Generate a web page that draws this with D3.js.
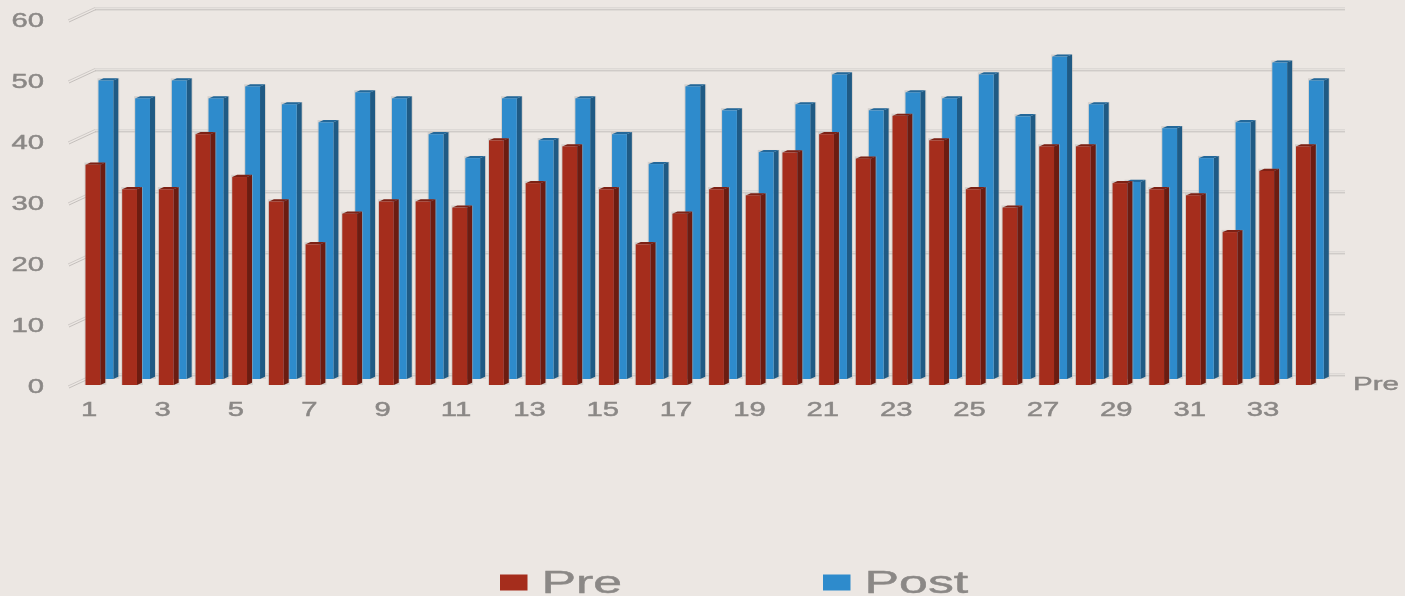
<!DOCTYPE html>
<html>
<head>
<meta charset="utf-8">
<script src="https://cdn.jsdelivr.net/npm/d3@7"></script>
<style>
html,body{margin:0;padding:0;background:#ece7e3;overflow:hidden}
svg{display:block;filter:blur(0.65px)}
text{font-family:"Liberation Sans",Arial,sans-serif;fill:#8b8886;stroke:#8b8886;stroke-width:0.45px}
</style>
</head>
<body>
<svg id="chart" width="1405" height="596"></svg>
<script>
const categories = d3.range(1, 35);
const preValues = [36,32,32,41,34,30,23,28,30,30,29,40,33,39,32,23,28,32,31,38,41,37,44,40,32,29,39,39,33,32,31,25,35,39];
const postValues = [50,47,50,47,49,46,43,48,47,41,37,47,40,47,41,36,49,45,38,46,51,45,48,47,51,44,54,46,33,42,37,43,53,50];
const yTicks = [0,10,20,30,40,50,60];
const xTickLabels = categories.filter(d => d % 2 === 1);
const seriesNames = ["Pre","Post"];
const axisCategoryLabel = "Pre";

const colors = {
  Pre:{face:"#a52d1c",side:"#6c1c11",top:"#7d2114"},
  Post:{face:"#2e8bcc",side:"#1f5a84",top:"#23689a"}
};
const W = 1405, H = 596;
const barW = 14.8, depthX = 5, depthY = 2.2;
const stretch = 1.5;

const svg = d3.select("#chart");
svg.append("rect").attr("width",W).attr("height",H).attr("fill","#ece7e3");

const x = d3.scalePoint().domain(categories).range([85.5,1296]);
const yBack = d3.scaleLinear().domain([0,60]).range([375,9]);
const yPre = d3.scaleLinear().domain([0,60]).range([385,18]);
const yPost = d3.scaleLinear().domain([0,60]).range([379,20.8]);
const yLabel = d3.scaleLinear().domain([0,60]).range([385.5,19.5]);

// gridlines, back wall and left wall
const grid = svg.append("g");
yTicks.forEach(t => {
  const y = yBack(t);
  grid.append("line").attr("x1",95).attr("x2",1345).attr("y1",y-1.2).attr("y2",y-1.2)
    .attr("stroke","#d8d3d0").attr("stroke-width",1);
  grid.append("line").attr("x1",95).attr("x2",1345).attr("y1",y+0.8).attr("y2",y+0.8)
    .attr("stroke","#c4bfbc").attr("stroke-width",1);
  grid.append("line").attr("x1",68).attr("x2",95).attr("y1",y+11).attr("y2",y-1.5)
    .attr("stroke","#cfcac7").attr("stroke-width",1);
  grid.append("line").attr("x1",69).attr("x2",96).attr("y1",y+13).attr("y2",y+0.5)
    .attr("stroke","#c4bfbc").attr("stroke-width",1);
});

function drawBars(name, values, dx, yScale){
  const c = colors[name];
  const g = svg.append("g").attr("class","series-"+name);
  const left = (d,i) => x(categories[i]) + dx;
  const base = yScale(0);
  // soft edge
  g.selectAll("rect.halo").data(values).join("rect").attr("class","halo")
    .attr("x",(d,i)=>left(d,i)-1).attr("width",barW+depthX+2)
    .attr("y",d=>yScale(d)-depthY).attr("height",d=>base-yScale(d)+depthY)
    .attr("fill","#b9b5b3").attr("opacity",0.45);
  g.selectAll("polygon.side").data(values).join("polygon").attr("class","side")
    .attr("fill",c.side)
    .attr("points",(d,i)=>{
      const l=left(d,i)+barW, t=yScale(d);
      return [[l,t],[l+depthX,t-depthY],[l+depthX,base-depthY],[l,base]].join(" ");
    });
  g.selectAll("polygon.top").data(values).join("polygon").attr("class","top")
    .attr("fill",c.top)
    .attr("points",(d,i)=>{
      const l=left(d,i), t=yScale(d);
      return [[l,t],[l+barW,t],[l+barW+depthX,t-depthY],[l+depthX,t-depthY]].join(" ");
    });
  g.selectAll("rect.face").data(values).join("rect").attr("class","face")
    .attr("fill",c.face)
    .attr("x",left).attr("width",barW)
    .attr("y",d=>yScale(d)).attr("height",d=>base-yScale(d));
}
drawBars("Post", postValues, 13, yPost);
drawBars("Pre", preValues, 0, yPre);

// y axis labels
const yAxis = d3.axisLeft(yLabel).tickValues(yTicks).tickSize(0).tickPadding(0);
const gy = svg.append("g").attr("transform","translate(44,0)").call(yAxis);
gy.select(".domain").remove();
gy.selectAll("text").style("font-size","19.5px")
  .attr("x",0).attr("dy","0.36em")
  .attr("transform",`scale(${stretch},1)`);

// x axis labels
const xAxis = d3.axisBottom(x).tickValues(xTickLabels).tickSize(0).tickPadding(0);
const gx = svg.append("g").attr("transform","translate(3.2,415.5)").call(xAxis);
gx.select(".domain").remove();
gx.selectAll("text").style("font-size","19.5px").attr("y",0).attr("dy",0)
  .attr("text-anchor","middle")
  .attr("transform",`scale(${stretch},1)`)
  .attr("x",0);

// category axis name
svg.append("text").text(axisCategoryLabel)
  .attr("transform",`translate(1353,390) scale(1.6,1)`)
  .style("font-size","18.5px");

// legend
const legendX = d3.scalePoint().domain(seriesNames).range([500,823]);
const legend = svg.append("g");
seriesNames.forEach(n => {
  legend.append("rect").attr("x",legendX(n)).attr("y",574.5).attr("width",27.5).attr("height",16)
    .attr("fill",colors[n].face);
  legend.append("text").text(n)
    .attr("transform",`translate(${legendX(n)+41.5},593) scale(1.62,1)`)
    .style("font-size","32px");
});
</script>
</body>
</html>
